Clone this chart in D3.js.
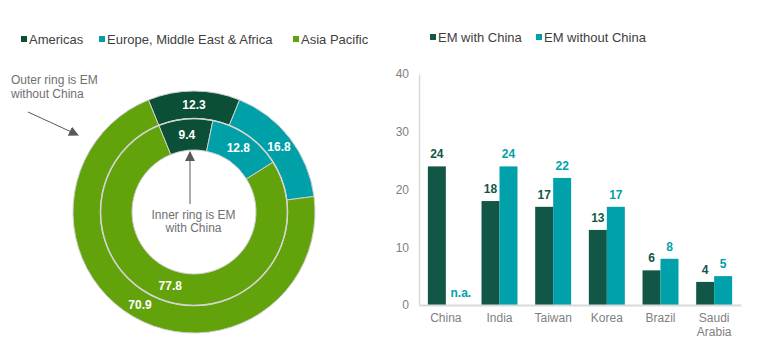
<!DOCTYPE html>
<html>
<head>
<meta charset="utf-8">
<script src="https://cdn.jsdelivr.net/npm/d3@7/dist/d3.min.js"></script>
<style>
  html, body { margin: 0; padding: 0; background: #fff; }
  svg { display: block; font-family: "Liberation Sans", Arial, sans-serif; }
</style>
</head>
<body>
<svg id="chart" width="760" height="347"></svg>
<script>
// Regional weights (%) of the EM index, with and without China
const regions = ["Americas", "Europe, Middle East & Africa", "Asia Pacific"];
const withoutChina = [12.3, 16.8, 70.9];   // outer ring
const withChina = [9.4, 12.8, 77.8];       // inner ring

// Country weights (%) for the bar chart
const countries = ["China", "India", "Taiwan", "Korea", "Brazil", "Saudi Arabia"];
const emWithChina = [24, 18, 17, 13, 6, 4];
const emWithoutChina = [null, 24, 22, 17, 8, 5];   // China is not in this index
const barSeries = ["EM with China", "EM without China"];
const yTicks = [0, 10, 20, 30, 40];

const regionColors = ["#0c4f37", "#00a0a8", "#62a30b"];
const barColors = ["#115646", "#00a1aa"];
const grey = "#7f7f7f";

const svg = d3.select("#chart");

/* ---------- Donut: region split ---------- */
const cx = 194, cy = 212;
const rOuter = 121, rMid = 93.5, rInner = 62;
const start = -(withoutChina[0] / 100) * Math.PI; // centre the Americas slice at the top

const pie = d3.pie().sort(null).startAngle(start).endAngle(start + 2 * Math.PI);
const donut = svg.append("g").attr("transform", `translate(${cx},${cy})`);

const rings = [
  { values: withoutChina, r0: rMid, r1: rOuter },
  { values: withChina, r0: rInner, r1: rMid }
];

rings.forEach(ring => {
  const arc = d3.arc().innerRadius(ring.r0).outerRadius(ring.r1);
  const arcs = pie(ring.values);
  donut.append("g").selectAll("path").data(arcs).join("path")
    .attr("d", arc)
    .attr("fill", (d, i) => regionColors[i])
    .attr("stroke", "#cfcfcf")
    .attr("stroke-width", 1);
  donut.append("g").selectAll("text").data(arcs).join("text")
    .attr("transform", d => `translate(${arc.centroid(d)})`)
    .attr("text-anchor", "middle")
    .attr("dy", "0.35em")
    .attr("fill", "#fff")
    .attr("font-weight", "bold")
    .attr("font-size", 12)
    .text(d => d.data.toFixed(1));
});

// light ring divider
donut.append("circle").attr("r", rMid).attr("fill", "none")
  .attr("stroke", "#d4d4d4").attr("stroke-width", 1.5);

// Left legend
const legL = svg.append("g").attr("font-size", 13).attr("fill", "#404040");
const legLx = [21, 99, 293];
regions.forEach((name, i) => {
  legL.append("rect").attr("x", legLx[i]).attr("y", 36).attr("width", 6).attr("height", 6)
    .attr("fill", regionColors[i]);
  legL.append("text").attr("x", legLx[i] + 8).attr("y", 43.5).text(name);
});

// Annotations
const defs = svg.append("defs");
defs.append("marker").attr("id", "tri").attr("viewBox", "0 0 10 10")
  .attr("refX", 9).attr("refY", 5).attr("markerWidth", 10).attr("markerHeight", 10)
  .attr("markerUnits", "userSpaceOnUse").attr("orient", "auto")
  .append("path").attr("d", "M0,0 L10,5 L0,10 Z").attr("fill", "#595959");

const note = svg.append("g").attr("font-size", 12).attr("fill", "#707070");
note.append("text").attr("x", 11).attr("y", 83.5).text("Outer ring is EM");
note.append("text").attr("x", 11).attr("y", 97.5).text("without China");
svg.append("line").attr("x1", 28).attr("y1", 112).attr("x2", 78).attr("y2", 135)
  .attr("stroke", "#595959").attr("stroke-width", 1).attr("marker-end", "url(#tri)");

note.append("text").attr("x", 193.5).attr("y", 219).attr("text-anchor", "middle").text("Inner ring is EM");
note.append("text").attr("x", 193.5).attr("y", 232).attr("text-anchor", "middle").text("with China");
svg.append("line").attr("x1", 190).attr("y1", 204).attr("x2", 190).attr("y2", 152)
  .attr("stroke", "#595959").attr("stroke-width", 1).attr("marker-end", "url(#tri)");

/* ---------- Bars: country weights ---------- */
const x0 = d3.scaleBand().domain(countries).range([419, 741]).paddingInner(0.33).paddingOuter(0.165);
const x1 = d3.scaleBand().domain(barSeries).range([0, x0.bandwidth()]);
const y = d3.scaleLinear().domain([0, 40]).range([305, 74]);

const bars = svg.append("g");

// axes
const yAxis = svg.append("g").attr("transform", "translate(419,0)")
  .call(d3.axisLeft(y).tickValues(yTicks).tickSize(0).tickPadding(10));
yAxis.select(".domain").attr("stroke", "#d9d9d9").attr("stroke-width", 1.5);
yAxis.selectAll("text").attr("fill", grey).attr("font-size", 12).attr("font-family", "Liberation Sans, Arial, sans-serif");

const groups = bars.selectAll("g").data(countries).join("g")
  .attr("transform", d => `translate(${x0(d)},0)`);

[emWithChina, emWithoutChina].forEach((vals, s) => {
  groups.filter((d, i) => vals[i] != null).append("rect")
    .attr("x", x1(barSeries[s]))
    .attr("width", x1.bandwidth())
    .attr("y", d => y(vals[countries.indexOf(d)]))
    .attr("height", d => y(0) - y(vals[countries.indexOf(d)]))
    .attr("fill", barColors[s]);
  groups.append("text")
    .attr("x", x1(barSeries[s]) + x1.bandwidth() / 2 + (s === 1 ? 0 : 0))
    .attr("y", d => {
      const v = vals[countries.indexOf(d)];
      return v == null ? y(0) - 8 : y(v) - 8;
    })
    .attr("dx", d => vals[countries.indexOf(d)] == null ? 6 : 0)
    .attr("text-anchor", "middle")
    .attr("font-size", 12)
    .attr("font-weight", "bold")
    .attr("fill", barColors[s])
    .text(d => {
      const v = vals[countries.indexOf(d)];
      return v == null ? "n.a." : v;
    });
});

const xAxis = svg.append("g").attr("transform", `translate(0,${y(0)})`)
  .call(d3.axisBottom(x0).tickSize(0).tickFormat(() => ""));
xAxis.select(".domain").attr("stroke", "#d9d9d9").attr("stroke-width", 2);

// category labels (two lines where needed)
svg.append("g").selectAll("text").data(countries).join("text")
  .attr("x", d => x0(d) + x0.bandwidth() / 2)
  .attr("y", 322)
  .attr("text-anchor", "middle")
  .attr("font-size", 12)
  .attr("fill", grey)
  .each(function (d) {
    const parts = d.split(" ");
    d3.select(this).selectAll("tspan").data(parts).join("tspan")
      .attr("x", x0(d) + x0.bandwidth() / 2)
      .attr("dy", (p, i) => i === 0 ? 0 : 14)
      .text(p => p);
  });

// Right legend
const legR = svg.append("g").attr("font-size", 13).attr("fill", "#404040");
const legRx = [430, 536];
barSeries.forEach((name, i) => {
  legR.append("rect").attr("x", legRx[i]).attr("y", 34).attr("width", 6).attr("height", 6)
    .attr("fill", barColors[i]);
  legR.append("text").attr("x", legRx[i] + 8).attr("y", 41.5).text(name);
});
</script>
</body>
</html>
